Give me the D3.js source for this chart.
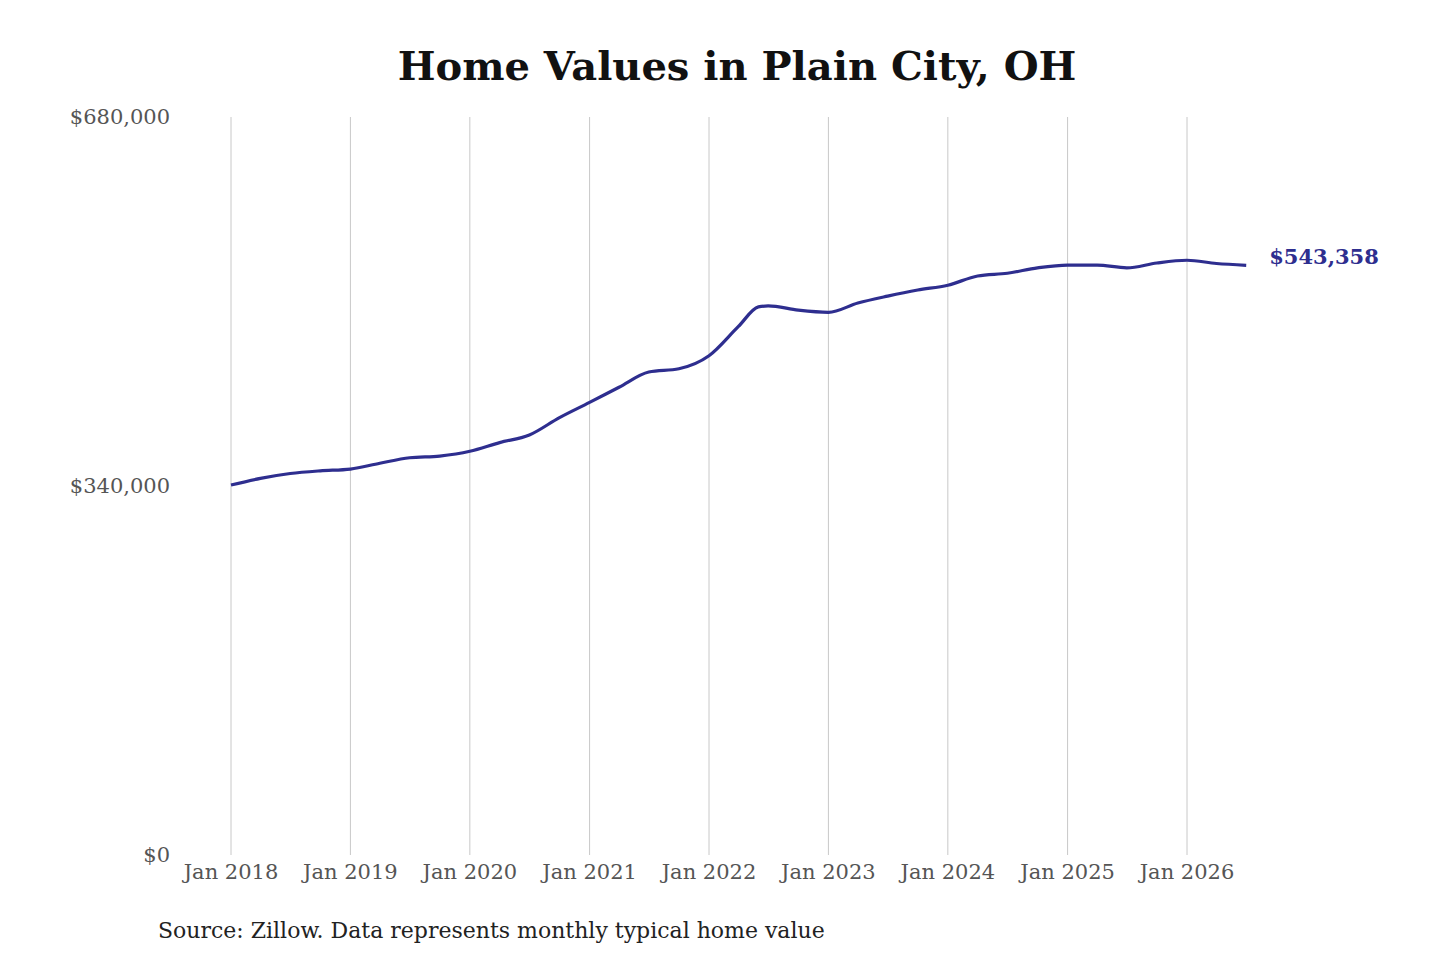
<!DOCTYPE html>
<html><head><meta charset="utf-8">
<script src="https://cdn.jsdelivr.net/npm/d3@7"></script>
<style>body{margin:0;background:#fff}svg{font-family:"DejaVu Serif",serif}</style>
</head><body><svg id="c" width="1440" height="960"></svg>
<script>
const dates=["2018-01","2018-04","2018-07","2018-10","2019-01","2019-04","2019-07","2019-10","2020-01","2020-04","2020-07","2020-10","2021-01","2021-04","2021-07","2021-10","2022-01","2022-04","2022-06","2022-07","2022-10","2023-01","2023-04","2023-07","2023-10","2024-01","2024-04","2024-07","2024-10","2025-01","2025-04","2025-07","2025-10","2026-01","2026-04","2026-07"];
const values=[340900,347000,351500,354000,355600,361000,366000,367600,372000,380000,387000,403000,417000,431000,445000,448000,460000,487000,505000,506000,502000,500000,508600,515000,520600,525000,533500,536000,541000,543600,543600,541000,545500,548000,545000,543358];
const yTicks=[0,340000,680000];
const xTickYears=[2018,2019,2020,2021,2022,2023,2024,2025,2026];
const parse=d3.timeParse("%Y-%m");
const data=dates.map((d,i)=>({d:parse(d),v:values[i]}));
const svg=d3.select("#c");
const x=d3.scaleTime().domain([new Date(2018,0,1),new Date(2026,0,1)]).range([231,1187]);
const y=d3.scaleLinear().domain([0,680000]).range([855,117]);
svg.append("text").attr("x",737).attr("y",80).attr("text-anchor","middle").attr("font-size",40).attr("font-weight","bold").attr("fill","#111").text("Home Values in Plain City, OH");
xTickYears.forEach(yr=>{
  const px=x(new Date(yr,0,1));
  svg.append("line").attr("x1",px).attr("x2",px).attr("y1",117).attr("y2",855).attr("stroke","#c8c8c8").attr("stroke-width",1);
  svg.append("text").attr("x",px).attr("y",879).attr("text-anchor","middle").attr("font-size",21).attr("fill","#555").text("Jan "+yr);
});
yTicks.forEach(t=>{
  svg.append("text").attr("x",170).attr("y",y(t)+7).attr("text-anchor","end").attr("font-size",21).attr("fill","#555").text("$"+d3.format(",")(t));
});
svg.append("path").datum(data).attr("fill","none").attr("stroke","#2e2e8f").attr("stroke-width",3.2)
  .attr("d",d3.line().x(d=>x(d.d)).y(d=>y(d.v)).curve(d3.curveMonotoneX));
const last=data[data.length-1];
svg.append("text").attr("x",x(last.d)+23).attr("y",y(last.v)-1).attr("font-size",21).attr("font-weight","bold").attr("fill","#2e2e8f").text("$"+d3.format(",")(last.v));
svg.append("text").attr("x",158).attr("y",938).attr("font-size",22).attr("fill","#222").text("Source: Zillow. Data represents monthly typical home value");
</script></body></html>
